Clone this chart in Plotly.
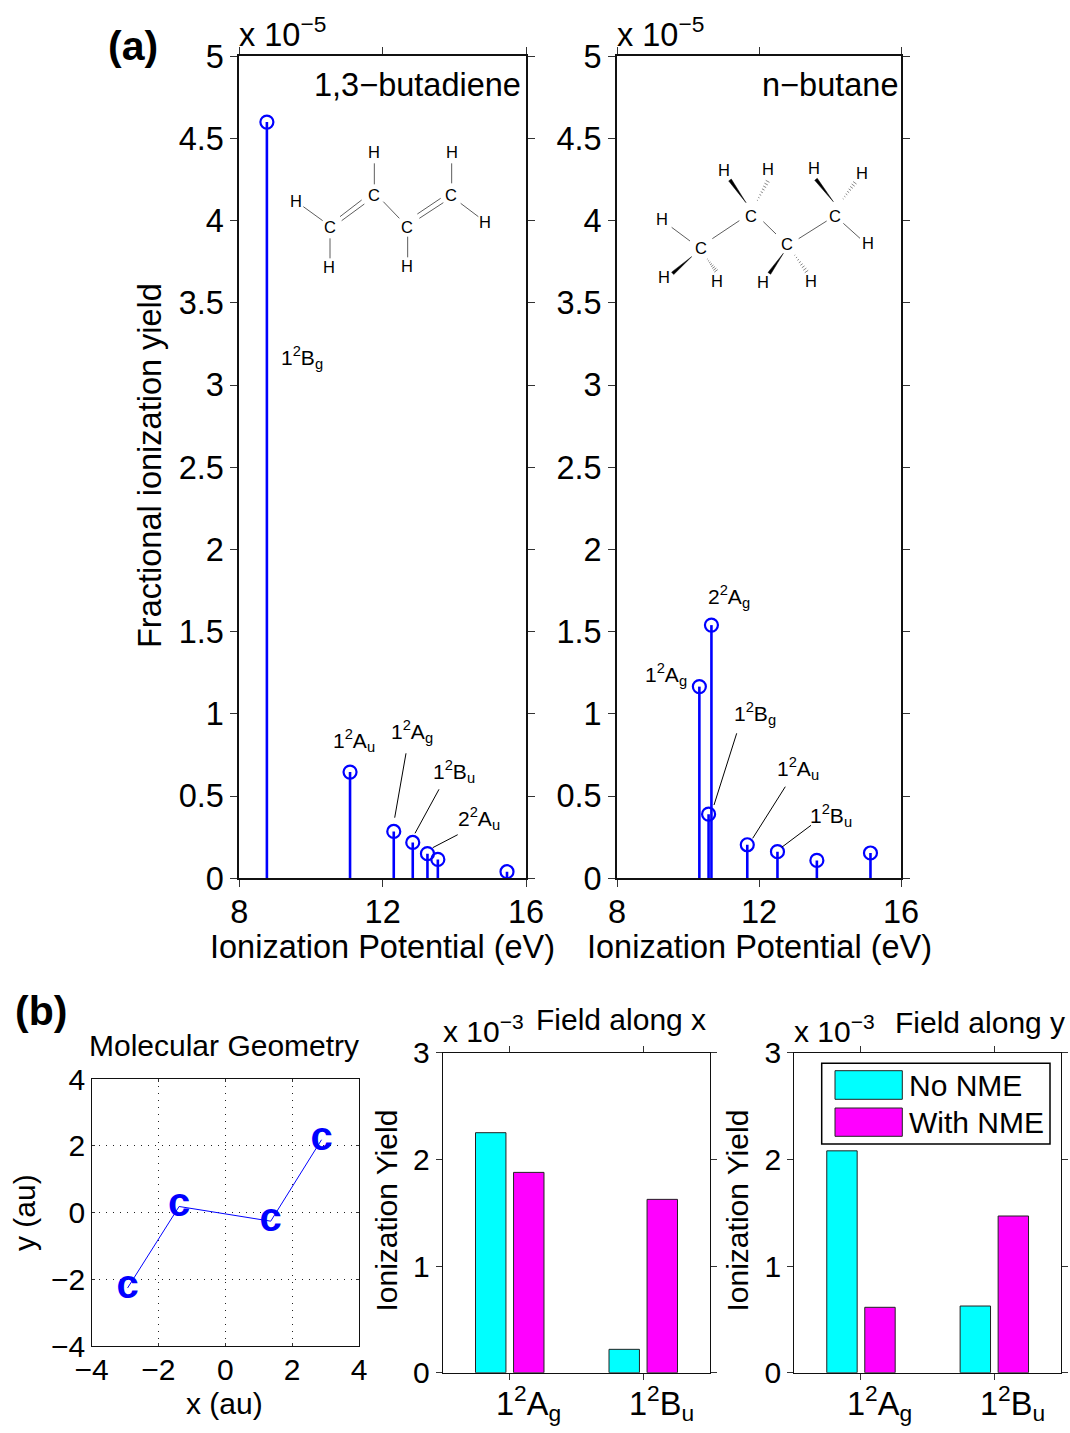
import math
import plotly.graph_objects as go

W, H = 1070, 1433
FONT = "Liberation Sans"
BLUE = "#0000ff"

# ---------- data ----------
butadiene_ip = [8.77, 11.09, 12.31, 12.84, 13.25, 13.54, 15.47]
butadiene_yield = [4.60, 0.646, 0.285, 0.218, 0.150, 0.115, 0.040]
butane_ip = [10.32, 10.58, 10.66, 11.67, 12.52, 13.63, 15.14]
butane_yield = [1.166, 0.390, 1.540, 0.204, 0.162, 0.109, 0.154]
geom_x = [-2.92, -1.38, 1.36, 2.88]
geom_y = [-2.26, 0.18, -0.26, 2.18]
geom_text = ["c", "c", "c", "c"]
states = ["1<sup>2</sup>A<sub>g</sub>", "1<sup>2</sup>B<sub>u</sub>"]
field_x_no_nme = [2.25, 0.219]
field_x_with_nme = [1.878, 1.625]
field_y_no_nme = [2.08, 0.625]
field_y_with_nme = [0.613, 1.469]
a_yticks = [0, 0.5, 1, 1.5, 2, 2.5, 3, 3.5, 4, 4.5, 5]
a_yticktext = ["0", "0.5", "1", "1.5", "2", "2.5", "3", "3.5", "4", "4.5", "5"]
a_xticks = [8, 12, 16]
geom_ticks = [-4, -2, 0, 2, 4]
bar_yticks = [0, 1, 2, 3]


def px(x):
    return x / W


def py(y):
    return 1 - y / H


def dom_x(a, b):
    return [px(a), px(b)]


def dom_y(top, bottom):
    return [py(bottom), py(top)]


shapes, annotations = [], []


def text(x, y, s, size=21, anchor="left", angle=0, bold=False, color="black", yanchor="middle"):
    annotations.append(dict(
        x=px(x), y=py(y), xref="paper", yref="paper", text=f"<b>{s}</b>" if bold else s,
        showarrow=False, xanchor=anchor, yanchor=yanchor, textangle=angle, borderpad=0, borderwidth=0,
        font=dict(family=FONT, size=size, color=color)))


def line(x0, y0, x1, y1, width=1.0, color="black"):
    shapes.append(dict(type="line", xref="paper", yref="paper",
                       x0=px(x0), y0=py(y0), x1=px(x1), y1=py(y1),
                       line=dict(color=color, width=width)))


def zline(ox, oy, a, b, c, d, width=0.8, color="#333333"):
    line(ox + a / 3, oy + b / 3, ox + c / 3, oy + d / 3, width, color)


def wedge(ox, oy, a, b, c, d, w=3.2):
    x0, y0, x1, y1 = ox + a / 3, oy + b / 3, ox + c / 3, oy + d / 3
    L = math.hypot(x1 - x0, y1 - y0)
    nx, ny = -(y1 - y0) / L * w / 2, (x1 - x0) / L * w / 2
    path = (f"M {px(x0)} {py(y0)} L {px(x1 + nx)} {py(y1 + ny)} "
            f"L {px(x1 - nx)} {py(y1 - ny)} Z")
    shapes.append(dict(type="path", xref="paper", yref="paper", path=path,
                       fillcolor="black", line=dict(color="black", width=0.5)))


def hashed(ox, oy, a, b, c, d, w=4.5, n=8):
    x0, y0, x1, y1 = ox + a / 3, oy + b / 3, ox + c / 3, oy + d / 3
    L = math.hypot(x1 - x0, y1 - y0)
    ux, uy = (x1 - x0) / L, (y1 - y0) / L
    for i in range(n):
        t = (i + 0.5) / n
        hw = (0.8 + (w - 0.8) * t) / 2
        cx, cy = x0 + (x1 - x0) * t, y0 + (y1 - y0) * t
        line(cx - uy * hw, cy + ux * hw, cx + uy * hw, cy - ux * hw, 0.7, "#555555")


# ---------- figure traces ----------
fig = go.Figure()


def stems(x, y, xa, ya):
    fig.add_trace(go.Scatter(
        x=x, y=y, mode="markers", xaxis=xa, yaxis=ya, cliponaxis=False, showlegend=False,
        marker=dict(symbol="circle-open", size=13, color=BLUE, line=dict(color=BLUE, width=2.2)),
        error_y=dict(type="data", symmetric=False, array=[0] * len(y), arrayminus=y,
                     color=BLUE, thickness=2.6, width=0)))


stems(butadiene_ip, butadiene_yield, "x", "y")
stems(butane_ip, butane_yield, "x2", "y2")

fig.add_trace(go.Scatter(
    x=geom_x, y=geom_y, mode="lines+text", text=geom_text, textposition="middle center",
    xaxis="x3", yaxis="y3", showlegend=False, cliponaxis=False,
    line=dict(color=BLUE, width=1),
    textfont=dict(family=FONT, size=40, color=BLUE, weight="bold")))

for no, wi, xa, ya in [(field_x_no_nme, field_x_with_nme, "x4", "y4"),
                       (field_y_no_nme, field_y_with_nme, "x5", "y5")]:
    fig.add_trace(go.Bar(x=states, y=no, name="No NME", xaxis=xa, yaxis=ya, offsetgroup="a",
                         showlegend=False, marker=dict(color="#00ffff", line=dict(color="#222222", width=1))))
    fig.add_trace(go.Bar(x=states, y=wi, name="With NME", xaxis=xa, yaxis=ya, offsetgroup="b",
                         showlegend=False, marker=dict(color="#ff00ff", line=dict(color="#222222", width=1))))


# ---------- axes ----------
def axis(domain, anchor, size, lw=1.7, ticklen=7, standoff=0, **kw):
    d = dict(domain=domain, anchor=anchor, showline=True, linecolor="#111111", linewidth=lw,
             mirror="ticks", ticks="outside", ticklen=ticklen, tickwidth=1, tickcolor="#333333",
             zeroline=False, showgrid=False, ticklabelstandoff=standoff, automargin=False,
             tickfont=dict(family=FONT, size=size, color="black"))
    d.update(kw)
    return d


SA = 32.5
SB = 30
grid = dict(showgrid=True, gridcolor="#222222", gridwidth=1, griddash="1px,6px")
fig.update_layout(
    xaxis=axis(dom_x(239.3, 526), "y", SA, range=[8, 16], tickvals=a_xticks, standoff=-3),
    yaxis=axis(dom_y(56.3, 878.3), "x", SA, range=[0, 5], tickvals=a_yticks, ticktext=a_yticktext, standoff=0),
    xaxis2=axis(dom_x(617, 901), "y2", SA, range=[8, 16], tickvals=a_xticks, standoff=-3),
    yaxis2=axis(dom_y(56.3, 878.3), "x2", SA, range=[0, 5], tickvals=a_yticks, ticktext=a_yticktext, standoff=0),
    xaxis3=axis(dom_x(91.5, 359), "y3", SB, lw=1.4, ticks="inside", ticklen=3, range=[-4, 4],
                tickvals=geom_ticks, standoff=-3, **grid),
    yaxis3=axis(dom_y(1079, 1346), "x3", SB, lw=1.4, ticks="inside", ticklen=3, range=[-4, 4],
                tickvals=geom_ticks, standoff=-1, **grid),
    xaxis4=axis(dom_x(443, 710), "y4", SB, lw=1.4, ticklen=6, range=[-0.5, 1.5], type="category",
                categoryorder="array", categoryarray=states, showticklabels=False),
    yaxis4=axis(dom_y(1052.7, 1372.7), "x4", SB, lw=1.4, ticklen=6, range=[0, 3], tickvals=bar_yticks, standoff=0),
    xaxis5=axis(dom_x(794.3, 1061), "y5", SB, lw=1.4, ticklen=6, range=[-0.5, 1.5], type="category",
                categoryorder="array", categoryarray=states, showticklabels=False),
    yaxis5=axis(dom_y(1052.7, 1372.7), "x5", SB, lw=1.4, ticklen=6, range=[0, 3], tickvals=bar_yticks, standoff=0),
)

# ---------- texts ----------
text(108, 45.5, "(a)", 41, bold=True)
text(15, 1010.5, "(b)", 41, bold=True)
for x in (239, 617):
    text(x, 31.5, "x 10<sup>−5</sup>", SA)
text(521, 85, "1,3−butadiene", SA, "right")
text(898, 85, "n−butane", SA, "right")
text(150, 466, "Fractional ionization yield", SA, "center", -90)
text(382.5, 947, "Ionization Potential (eV)", SA, "center")
text(759, 947, "Ionization Potential (eV)", SA, "center")

text(224, 1045, "Molecular Geometry", SB, "center")
text(24, 1212, "y (au)", SB, "center", -90)
text(224.6, 1403, "x (au)", SB, "center")
text(443, 1029, "x 10<sup>−3</sup>", SB)
text(794, 1029, "x 10<sup>−3</sup>", SB)
text(536, 1019, "Field along x", SB)
text(895, 1022, "Field along y", SB)
text(385.5, 1211, "Ionization Yield", SB, "center", -90)
text(736.5, 1211, "Ionization Yield", SB, "center", -90)

# category labels under the bars (shifted right of their ticks as in the reference)
for xa, ya in (("x4", "y4"), ("x5", "y5")):
    for i, s in enumerate(states):
        annotations.append(dict(x=i, y=0, xref=xa, yref=ya, text=s, showarrow=False, xanchor="center",
                                yanchor="top", xshift=18.5, yshift=-6, borderpad=0,
                                font=dict(family=FONT, size=SA, color="black")))

# legend in panel 3
shapes.append(dict(type="rect", xref="paper", yref="paper", x0=px(821.7), y0=py(1144), x1=px(1050), y1=py(1063.3),
                   fillcolor="white", line=dict(color="black", width=1.5)))
shapes.append(dict(type="rect", xref="paper", yref="paper", x0=px(835), y0=py(1099.3), x1=px(902.3), y1=py(1070.7),
                   fillcolor="#00ffff", line=dict(color="#222222", width=1)))
shapes.append(dict(type="rect", xref="paper", yref="paper", x0=px(835), y0=py(1136.3), x1=px(902.3), y1=py(1108),
                   fillcolor="#ff00ff", line=dict(color="#222222", width=1)))
text(909, 1085, "No NME", SB)
text(909, 1122, "With NME", SB)

# state labels with leader lines
LAB = 21
for x, y, s in [
    (281, 357, "1<sup>2</sup>B<sub>g</sub>"), (333, 740, "1<sup>2</sup>A<sub>u</sub>"),
    (391, 731, "1<sup>2</sup>A<sub>g</sub>"), (432.7, 771, "1<sup>2</sup>B<sub>u</sub>"),
    (458.3, 818, "2<sup>2</sup>A<sub>u</sub>"), (707.7, 596, "2<sup>2</sup>A<sub>g</sub>"),
    (645, 674, "1<sup>2</sup>A<sub>g</sub>"), (734, 713, "1<sup>2</sup>B<sub>g</sub>"),
    (776.7, 768, "1<sup>2</sup>A<sub>u</sub>"), (810, 815, "1<sup>2</sup>B<sub>u</sub>"),
]:
    text(x, y, s, LAB)
for a in [(406, 753.3, 394.7, 817.7), (439, 789.3, 415, 833.3), (457.7, 834.7, 432.7, 847.7),
          (736.7, 733.3, 714, 805), (785.3, 786.7, 752.7, 838.3), (811, 825.3, 781.7, 847.3)]:
    line(*a, width=1)

# 1,3-butadiene structure
ATOM = 16.5
for x, y, s in [(330, 226.7, "C"), (374.3, 195, "C"), (406.7, 226.7, "C"), (451.3, 195, "C"),
                (296, 201, "H"), (374.3, 151.7, "H"), (451.7, 151.7, "H"), (484.7, 221.7, "H"),
                (329.3, 266.7, "H"), (406.7, 266, "H")]:
    text(x, y, s, ATOM, "center")
for a in [(220, 620, 278, 662), (433, 490, 433, 553), (665, 490, 665, 550), (692, 610, 745, 650),
          (300, 715, 300, 775), (533, 710, 533, 772), (460, 605, 508, 655),
          (330, 650, 395, 600), (335, 662, 403, 612), (562, 642, 632, 595), (568, 655, 640, 608)]:
    zline(230, 0, *a)

# n-butane structure
for x, y, s in [(701, 248.3, "C"), (751, 215.7, "C"), (786.7, 244.3, "C"), (835.3, 215.7, "C"),
                (662.3, 219, "H"), (664.3, 276.7, "H"), (717.3, 281, "H"), (724, 170, "H"),
                (768.3, 169.3, "H"), (763.3, 281.7, "H"), (811, 280.7, "H"), (814.3, 167.7, "H"),
                (861.7, 173.3, "H"), (868.3, 243.3, "H")]:
    text(x, y, s, ATOM, "center")
for a in [(185, 682, 240, 723), (307, 716, 388, 662), (460, 665, 498, 702), (566, 716, 650, 663), (700, 670, 750, 715)]:
    zline(610, 0, *a)
for a in [(245, 770, 188, 820), (408, 608, 360, 540), (520, 760, 478, 820), (670, 605, 618, 538)]:
    wedge(610, 0, *a)
for a in [(290, 775, 320, 815), (440, 605, 475, 540), (552, 762, 592, 818), (697, 600, 737, 545)]:
    hashed(610, 0, *a)

fig.update_layout(
    width=W, height=H, autosize=False, margin=dict(l=0, r=0, t=0, b=0, pad=0),
    paper_bgcolor="white", plot_bgcolor="white", barmode="group", bargap=0.43, bargroupgap=0.2,
    showlegend=False, font=dict(family=FONT, color="black"), shapes=shapes, annotations=annotations)

fig.write_html("out.html", config={"displayModeBar": False},
               post_script="document.body.style.margin='0';document.documentElement.style.overflow='hidden';")
